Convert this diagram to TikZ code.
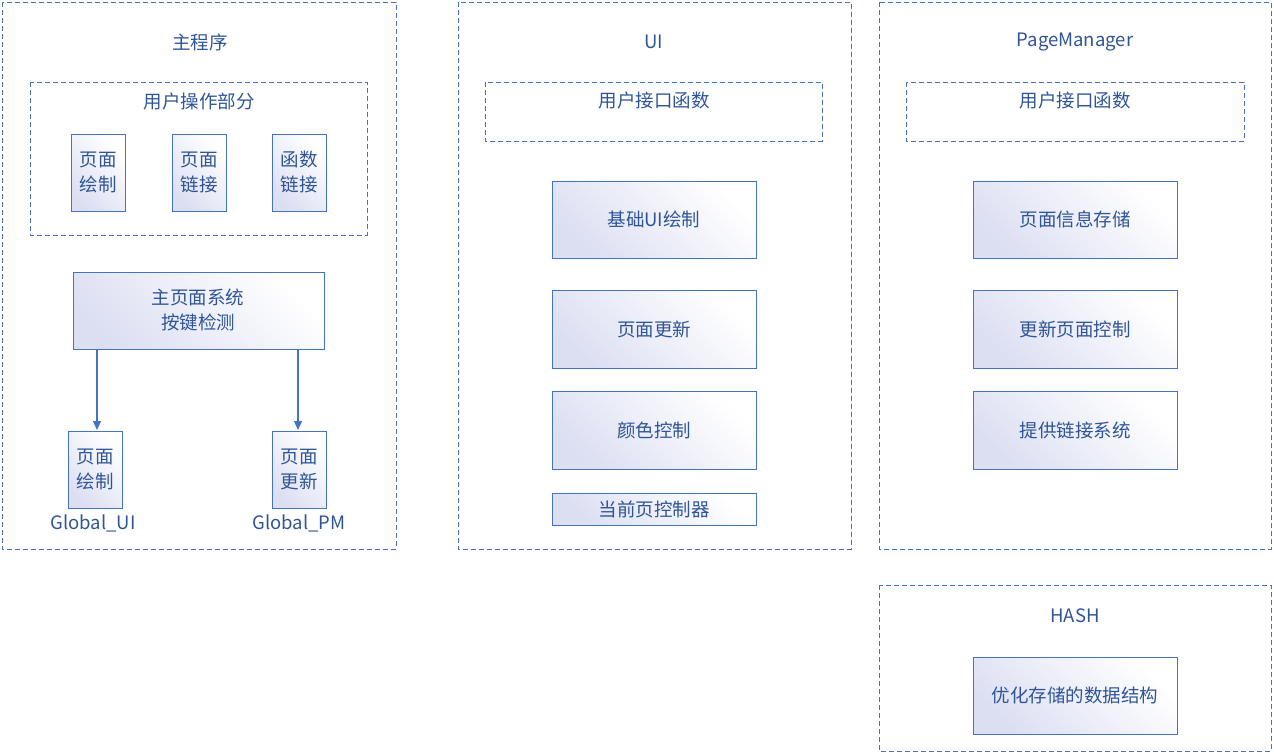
\documentclass[tikz,border=0pt]{standalone}
\usepackage{fontspec}
\setmainfont{Noto Sans CJK SC}
\usetikzlibrary{arrows.meta}
\definecolor{bd}{HTML}{4472C4}
\definecolor{tx}{HTML}{2F5597}
\definecolor{fl}{HTML}{DCDFF2}
\begin{document}
\begin{tikzpicture}[x=1pt,y=-1pt,
 frame/.style={draw=bd,line width=1pt,dash pattern=on 5pt off 3pt},
 box/.style={draw=bd,line width=1pt,left color=fl,right color=white,shading angle=135},
 lbl/.style={text=tx,font=\fontsize{18.5}{25}\selectfont,align=center,inner sep=0pt},
 arr/.style={draw=bd,line width=1.2pt,-{Triangle[length=9pt,width=8pt]}}]
\useasboundingbox (0,0) rectangle (1274,753);
% frame 1
\draw[frame] (2,2) rectangle (396,549);
\node[lbl] (t1) at (200,42) {主程序};
\draw[frame] (30,82) rectangle (367,235);
\node[lbl] (t1b) at (199,101) {用户操作部分};
\draw[box] (71,134) rectangle (125,211); \node[lbl] (a1) at (98,172) {页面\\绘制};
\draw[box] (172,134) rectangle (226,211); \node[lbl] (a2) at (199,172) {页面\\链接};
\draw[box] (272,134) rectangle (326,211); \node[lbl] (a3) at (299,172) {函数\\链接};
\draw[box] (73,272) rectangle (324,349); \node[lbl] (m) at (198,310) {主页面系统\\按键检测};
\coordinate (m1) at (97,349); \coordinate (m2) at (298,349);
\draw[box] (68,431) rectangle (122,508); \node[lbl] (g1) at (95,469) {页面\\绘制};
\draw[box] (272,431) rectangle (326,508); \node[lbl] (g2) at (299,469) {页面\\更新};
\coordinate (g1t) at (97,430); \coordinate (g2t) at (298,430);
\draw[arr] (m1) -- (g1t);
\draw[arr] (m2) -- (g2t);
\node[lbl] (gl1) at (93,523) {Global\_UI};
\node[lbl] (gl2) at (299,523) {Global\_PM};
% frame 2
\draw[frame] (458,2) rectangle (851,549);
\node[lbl] (t2) at (654,42) {UI};
\draw[frame] (485,82) rectangle (822,141);
\node[lbl] (t2b) at (654,100) {用户接口函数};
\draw[box] (552,181) rectangle (756,258); \node[lbl] (u1) at (654,219) {基础UI绘制};
\draw[box] (552,290) rectangle (756,368); \node[lbl] (u2) at (654,329) {页面更新};
\draw[box] (552,391) rectangle (756,469); \node[lbl] (u3) at (654,430) {颜色控制};
\draw[box] (552,493) rectangle (756,525); \node[lbl] (u4) at (654,509) {当前页控制器};
% frame 3
\draw[frame] (879,2) rectangle (1271,549);
\node[lbl] (t3) at (1075,42) {PageManager};
\draw[frame] (906,82) rectangle (1244,141);
\node[lbl] (t3b) at (1075,100) {用户接口函数};
\draw[box] (973,181) rectangle (1177,258); \node[lbl] (p1) at (1075,219) {页面信息存储};
\draw[box] (973,290) rectangle (1177,368); \node[lbl] (p2) at (1075,329) {更新页面控制};
\draw[box] (973,391) rectangle (1177,469); \node[lbl] (p3) at (1075,430) {提供链接系统};
% frame 4
\draw[frame] (879,585) rectangle (1271,751);
\node[lbl] (t4) at (1075,616) {HASH};
\draw[box] (973,657) rectangle (1177,734); \node[lbl] (h1) at (1075,695) {优化存储的数据结构};
\end{tikzpicture}
\end{document}
